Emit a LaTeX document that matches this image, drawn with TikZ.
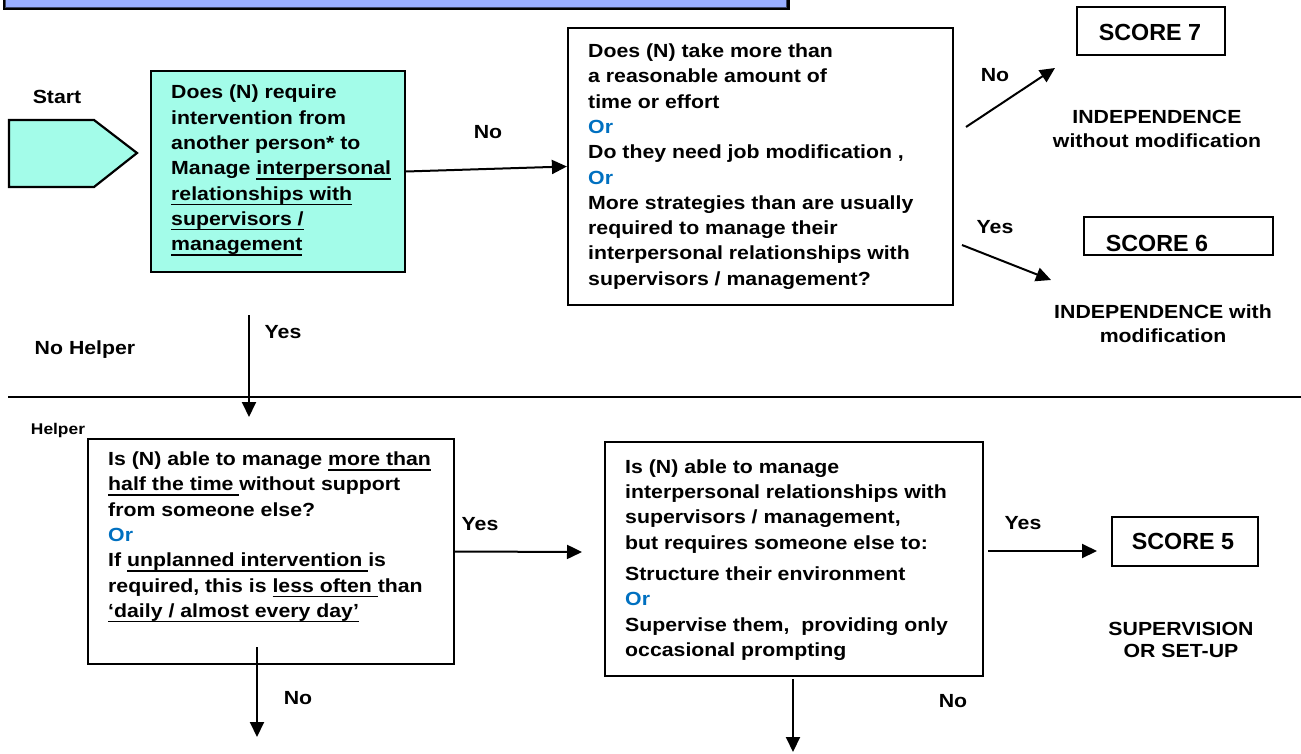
\documentclass[tikz,border=0pt]{standalone}
\usepackage{fontspec}
\setmainfont{Liberation Sans}[FakeStretch=1.12]
\newfontfamily\scorefont{Liberation Sans}
\usetikzlibrary{arrows.meta}
\definecolor{aqua}{RGB}{163,252,233}
\definecolor{banner}{RGB}{153,174,255}
\definecolor{orblue}{RGB}{0,112,192}
\newcommand{\orr}{\textcolor{orblue}{Or}}
% underline drawn as a rule just under the descenders
\newcommand{\myul}[1]{\setbox0\hbox{#1}\rlap{\rule[-5pt]{\wd0}{1.4pt}}\box0}
\begin{document}
\begin{tikzpicture}[x=1pt,y=-1pt,
  txt/.style={inner sep=0pt,anchor=west,align=left,
    font=\fontsize{19}{25.3}\selectfont\bfseries},
  lbl/.style={inner sep=0pt,align=center,
    font=\fontsize{19}{23.5}\selectfont\bfseries},
  qbox/.style={draw=black,line width=2.2pt,inner sep=0pt},
  sbox/.style={draw=black,line width=1.8pt,inner sep=0pt},
  stxt/.style={inner sep=0pt,font=\fontsize{23.3}{26}\selectfont\scorefont\bfseries},
  flow/.style={line width=2pt,-{Triangle[length=15pt,width=14pt]}}]
\useasboundingbox (0,0) rectangle (1301,754);

% title banner running off the top edge
\fill[black] (3,-20) rectangle (790,10);
\filldraw[fill=banner,draw=banner!40!black,line width=0.8pt] (5,-20) rectangle (786,7);

% start marker
\filldraw[fill=aqua,draw=black,line width=2.2pt]
  (9,120) -- (94,120) -- (137,153) -- (94,187) -- (9,187) -- cycle;
\node[lbl] (start) at (57,97) {Start};

% first question
\node[qbox,fill=aqua,minimum width=254pt,minimum height=201pt] (b1) at (278,171.5) {};
\node[txt] (t1) at (171,170.5) {Does (N) require\\intervention from\\another person* to\\Manage \myul{interpersonal}\\\myul{relationships with}\\\myul{supervisors /}\\\myul{management}};

% second question
\node[qbox,minimum width=385pt,minimum height=277pt] (b2) at (760.5,166.5) {};
\node[txt] (t2) at (588,166.5) {Does (N) take more than\\a reasonable amount of\\time or effort\\\orr\\Do they need job modification ,\\\orr\\More strategies than are usually\\required to manage their\\interpersonal relationships with\\supervisors / management?};

% scores 7 and 6
\node[sbox,minimum width=148pt,minimum height=48pt] (s7) at (1151,31) {};
\node[stxt] (s7t) at (1150,32) {SCORE 7};
\node[lbl] (ind7) at (1157,129) {INDEPENDENCE\\without modification};
\node[sbox,minimum width=189pt,minimum height=38pt] (s6) at (1178.5,236) {};
\node[stxt] (s6t) at (1157,243) {SCORE 6};
\node[lbl] (ind6) at (1163,323.5) {INDEPENDENCE with\\modification};

% divider between no helper and helper
\coordinate (divl) at (8,397);
\coordinate (divr) at (1301,397);
\draw[line width=2pt] (divl) -- (divr);
\node[lbl] (nohelp) at (85,350) {No Helper};
\node[inner sep=0pt,font=\fontsize{15.5}{18}\selectfont\bfseries] (helper) at (58,430) {Helper};

% third question
\node[qbox,minimum width=366pt,minimum height=225pt] (b3) at (271,551.5) {};
\node[txt] (t3) at (108,551) {Is (N) able to manage \myul{more than}\\\myul{half the time }without support\\from someone else?\\\orr\\If \myul{unplanned intervention }is\\required, this is \myul{less often }than\\\myul{‘daily / almost every day’}\\\strut};

% fourth question
\node[qbox,minimum width=378pt,minimum height=234pt] (b4) at (794,559) {};
\node[txt] (t4) at (625,560) {Is (N) able to manage\\interpersonal relationships with\\supervisors / management,\\but requires someone else to:\\[6pt]Structure their environment\\\orr\\Supervise them,\ \ providing only\\occasional prompting};

% score 5
\node[sbox,minimum width=146pt,minimum height=49pt] (s5) at (1185,541.5) {};
\node[stxt] (s5t) at (1183,541) {SCORE 5};
\node[lbl,font=\fontsize{19}{22}\selectfont\bfseries] (sup5) at (1181,640) {SUPERVISION\\OR SET-UP};

% connector end points
\coordinate (n7a) at (966,127);
\coordinate (n7b) at (1055,68);
\coordinate (y6a) at (962,245);
\coordinate (y6b) at (1051,280);
\coordinate (downa) at (249,315);
\coordinate (downb) at (249,417);
\coordinate (b3in) at (582,552);
\coordinate (n3a) at (257,647);
\coordinate (n3b) at (257,737);
\coordinate (n4a) at (793,679);
\coordinate (n4b) at (793,752);
\coordinate (y5a) at (988,551);
\coordinate (y5b) at (1097,551);

% connectors
\draw[flow] (b1.east) -- (b2.west);
\node[lbl] (lno1) at (488,132) {No};
\draw[flow] (n7a) -- (n7b);
\node[lbl] (lno2) at (995,75) {No};
\draw[flow] (y6a) -- (y6b);
\node[lbl] (lyes1) at (995,227) {Yes};
\draw[flow] (downa) -- (downb);
\node[lbl] (lyes2) at (283,332) {Yes};
\draw[flow] (b3.east) -- (b3in);
\node[lbl] (lyes3) at (480,524) {Yes};
\draw[flow] (n3a) -- (n3b);
\node[lbl] (lno3) at (298,698) {No};
\draw[flow] (n4a) -- (n4b);
\node[lbl] (lno4) at (953,701) {No};
\draw[flow] (y5a) -- (y5b);
\node[lbl] (lyes4) at (1023,523) {Yes};
\end{tikzpicture}
\end{document}
